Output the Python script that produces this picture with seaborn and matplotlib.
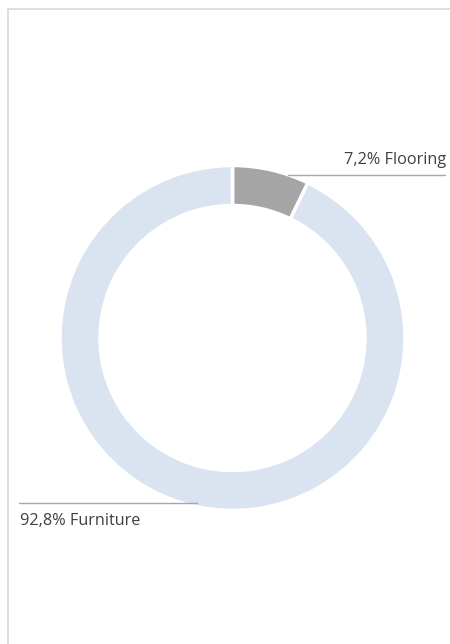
import matplotlib
matplotlib.use("Agg")
import matplotlib.pyplot as plt
import seaborn as sns
import numpy as np

categories = ["Flooring", "Furniture"]
shares = [7.2, 92.8]
colors = ["#a5a5a5", "#dae3f0"]
labels = ["7,2% Flooring", "92,8% Furniture"]

sns.set_theme(style="white")
plt.rcParams['font.family'] = ['Open Sans', 'DejaVu Sans']

W, H = 450, 644
fig = plt.figure(figsize=(W / 100, H / 100), dpi=100)
ax = fig.add_axes([0, 0, 1, 1])
ax.set_xlim(0, W)
ax.set_ylim(0, H)
ax.set_aspect('equal')
ax.axis('off')

# border of the chart area
fig.patches.append(plt.Rectangle((8 / W, -0.1), 1.2, (H - 9) / H + 0.1, transform=fig.transFigure,
                                 fill=False, edgecolor="#d9d9d9", linewidth=1.2))

cx, cy, R = 232.5, H - 338, 172.5
ax.pie(shares, colors=colors, startangle=90, counterclock=False, radius=R, center=(cx, cy),
       wedgeprops=dict(width=40, edgecolor="white", linewidth=2.5), frame=True)
ax.set_xlim(0, W)
ax.set_ylim(0, H)
ax.axis('off')

# leader lines and labels
ax.plot([288, 445], [H - 175, H - 175], color="#a6a6a6", lw=1)
ax.text(446, H - 160, labels[0], ha="right", va="center", fontsize=11.7, color="#404040")
ax.plot([19, 197], [H - 502.5, H - 502.5], color="#a6a6a6", lw=1)
ax.text(20, H - 521, labels[1], ha="left", va="center", fontsize=11.7, color="#404040")

fig.savefig("out.png", dpi=100)
